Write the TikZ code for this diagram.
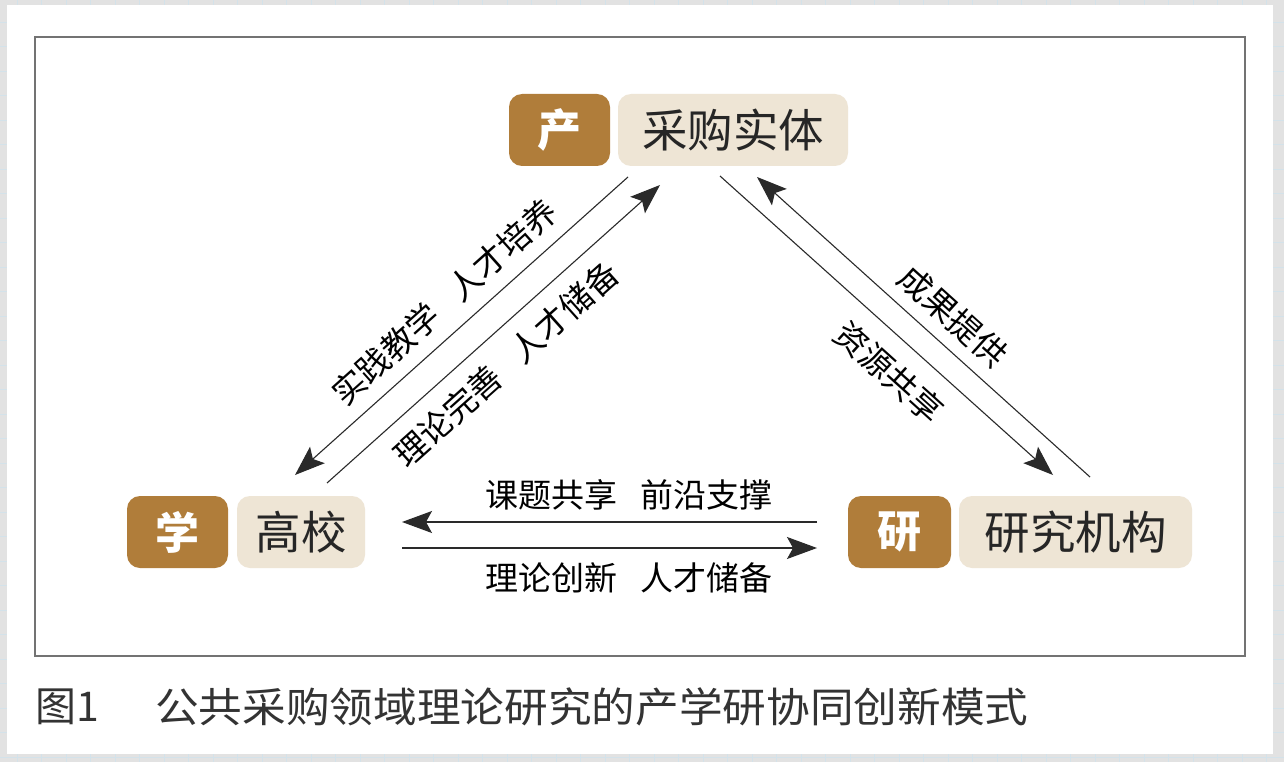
\documentclass[tikz,border=0pt]{standalone}
\usepackage{fontspec}
\setmainfont{Noto Sans CJK SC}
\usetikzlibrary{arrows.meta}
\definecolor{brownbox}{HTML}{B07D3A}
\definecolor{beigebox}{HTML}{EEE5D5}
\definecolor{linec}{HTML}{2A2A2A}
\definecolor{framec}{HTML}{737373}
\definecolor{capc}{HTML}{333333}
\definecolor{bordc}{HTML}{E2E2E2}
\definecolor{gridc}{HTML}{D3E2EA}
\begin{document}
\begin{tikzpicture}[x=1pt,y=-1pt,
  tagbox/.style={fill=brownbox, rounded corners=13pt, minimum height=72pt, text=white, font=\fontsize{44}{44}\selectfont\bfseries, inner sep=0pt},
  namebox/.style={fill=beigebox, rounded corners=13pt, minimum height=72pt, text=black!85, font=\fontsize{45.5}{46}\selectfont, inner sep=0pt},
  conn/.style={draw=linec, line width=1.1pt},
  arr/.style={conn, -{Stealth[length=30pt,width=22pt,inset=6pt]}},
  lbl/.style={font=\fontsize{33}{33}\selectfont, text=black, inner sep=0pt},
  captxt/.style={font=\fontsize{41}{41}\selectfont, text=capc, inner sep=0pt, anchor=west},
]
\useasboundingbox (0,0) rectangle (1284,762);
\fill[bordc] (0,0) rectangle (1284,762);
\foreach \x in {17,41.5,...,1284} \draw[gridc, line width=0.8pt] (\x,0) -- (\x,762);
\foreach \y in {22,46.5,...,762} \draw[gridc, line width=0.8pt] (0,\y) -- (1284,\y);
\fill[white] (7,5) rectangle (1273,754);
\draw[framec, line width=2pt] (35,37) rectangle (1245,656);

% nodes
\node[tagbox, minimum width=101pt] (chan) at (559.5,130) {产};
\node[namebox, minimum width=230pt] (cgst) at (733,130) {采购实体};
\node[tagbox, minimum width=101pt] (xue) at (177.5,532) {学};
\node[namebox, minimum width=128pt] (gx) at (301,532) {高校};
\node[tagbox, minimum width=103pt] (yan) at (899.5,532) {研};
\node[namebox, minimum width=233pt] (yjjg) at (1075.5,532) {研究机构};

% connector end points
\coordinate (a1) at (628,177); \coordinate (a2) at (295,475);
\coordinate (b1) at (327,483); \coordinate (b2) at (660,185);
\coordinate (c1) at (720,176); \coordinate (c2) at (1053,475);
\coordinate (d1) at (1090,477); \coordinate (d2) at (757,177);
\coordinate (e1) at (817,522); \coordinate (e2) at (402,522);
\coordinate (f1) at (402,548); \coordinate (f2) at (817,548);

\draw[arr] (a1) -- (a2);
\draw[arr] (b1) -- (b2);
\draw[arr] (c1) -- (c2);
\draw[arr] (d1) -- (d2);
\draw[arr] (e1) -- (e2);
\draw[arr] (f1) -- (f2);

% labels
\node[lbl, rotate=41.8] (la) at (444,302) {实践教学\hspace{24pt}人才培养};
\node[lbl, rotate=41.8] (lb) at (506,364) {理论完善\hspace{24pt}人才储备};
\node[lbl, rotate=-42] (lc) at (889,372) {资源共享};
\node[lbl, rotate=-42] (ld) at (953,316) {成果提供};
\node[lbl] (le) at (629,495) {课题共享\hspace{24pt}前沿支撑};
\node[lbl] (lf) at (629,578) {理论创新\hspace{24pt}人才储备};

% caption
\node[captxt] (capno) at (35,707) {图1};
\node[captxt] (cap) at (155,707) {\scalebox{1.065}[1]{公共采购领域理论研究的产学研协同创新模式}};
\end{tikzpicture}
\end{document}
